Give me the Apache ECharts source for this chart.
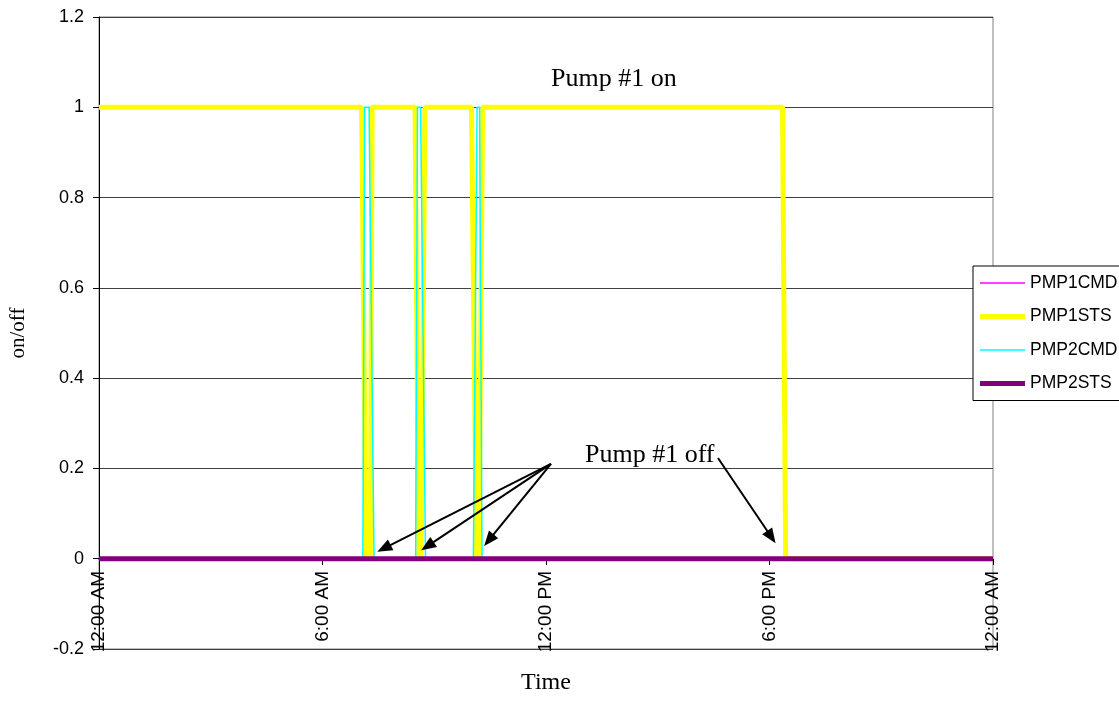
<!DOCTYPE html>
<html>
<head>
<meta charset="utf-8">
<script src="https://cdn.jsdelivr.net/npm/echarts/dist/echarts.min.js"></script>
<style>
html,body{margin:0;padding:0;background:#fff;}
#chart{width:1119px;height:704px;}
</style>
</head>
<body>
<div id="chart"></div>
<script>
// Time in minutes after midnight, values 0 = off, 1 = on
const xTickLabels = ['12:00 AM', '6:00 AM', '12:00 PM', '6:00 PM', '12:00 AM'];
const seriesNames = ['PMP1CMD', 'PMP1STS', 'PMP2CMD', 'PMP2STS'];

const pmp1cmdTime = [0, 423, 430, 437, 440, 509, 515, 519, 525, 600, 608, 612, 618, 1101, 1106, 1440];
const pmp1cmdVal  = [1, 1,   0,   0,   1,   1,   0,   0,   1,   1,   0,   0,   1,   1,    0,    0];

const pmp1stsTime = [0, 423, 430, 437, 440, 509, 515, 519, 525, 600, 608, 612, 618, 1101, 1106, 1440];
const pmp1stsVal  = [1, 1,   0,   0,   1,   1,   0,   0,   1,   1,   0,   0,   1,   1,    0,    0];

const pmp2cmdTime = [0, 425, 428, 435, 443, 510, 513, 518, 526, 603, 609, 613, 617, 1440];
const pmp2cmdVal  = [0, 0,   1,   1,   0,   0,   1,   1,   0,   0,   1,   1,   0,   0];

const pmp2stsTime = [0, 1440];
const pmp2stsVal  = [0, 0];

// annotation arrows: [fromTime, fromValue, toTime, toValue]
const arrows = [
  [728, 0.210, 459, 0.023],
  [728, 0.210, 529, 0.028],
  [728, 0.210, 628, 0.041],
  [997, 0.223, 1083, 0.048]
];

function pairs(t, v) { return t.map((x, i) => [x, v[i]]); }

const chart = echarts.init(document.getElementById('chart'), null, {renderer: 'canvas'});

const serif = '"Liberation Serif", "Times New Roman", serif';
const sans = '"Liberation Sans", Arial, sans-serif';

const legendIcons = {
  thin: 'path://M0,0h45v1.5h-45z',
  thick: 'path://M0,0h45v5h-45z'
};

const option = {
  animation: false,
  backgroundColor: '#ffffff',
  grid: {left: 99, right: 126, top: 17, bottom: 55, show: true, borderColor: '#808080', borderWidth: 1,
    backgroundColor: 'transparent', containLabel: false, outerBoundsMode: 'none'},
  xAxis: {
    type: 'value', min: 0, max: 1440, interval: 360,
    position: 'bottom', offset: -90,
    axisLine: {onZero: false, lineStyle: {color: '#000', width: 1}},
    axisTick: {show: true, length: 6, lineStyle: {color: '#000'}},
    axisLabel: {rotate: 90, margin: 12, fontFamily: sans, fontSize: 19, color: '#000',
      formatter: function (v) { return xTickLabels[Math.round(v / 360)]; }},
    splitLine: {show: false},
    name: 'Time', nameLocation: 'middle', nameGap: 112,
    nameTextStyle: {fontFamily: serif, fontSize: 24, color: '#000'}
  },
  yAxis: {
    type: 'value', min: -0.2, max: 1.2, interval: 0.2,
    axisLine: {show: true, onZero: false, lineStyle: {color: '#000', width: 1}},
    axisTick: {show: true, length: 6, lineStyle: {color: '#000'}},
    axisLabel: {margin: 15, fontFamily: sans, fontSize: 18, color: '#000'},
    splitLine: {show: true, lineStyle: {color: '#404040', width: 1}},
    name: 'on/off', nameLocation: 'middle', nameGap: 70,
    nameTextStyle: {fontFamily: serif, fontSize: 21, color: '#000'}
  },
  legend: {
    orient: 'vertical', left: 973, top: 266,
    data: [
      {name: seriesNames[0], icon: legendIcons.thin},
      {name: seriesNames[1], icon: legendIcons.thick},
      {name: seriesNames[2], icon: legendIcons.thin},
      {name: seriesNames[3], icon: legendIcons.thick}
    ],
    itemWidth: 45, itemHeight: 14, itemGap: 15.5,
    padding: [8, 6, 8, 7],
    borderColor: '#000', borderWidth: 1, backgroundColor: '#fff',
    textStyle: {fontFamily: sans, fontSize: 17.5, color: '#000'}
  },
  graphic: [
    {type: 'text', left: 551, top: 66, z: 100,
      style: {text: 'Pump #1 on', font: '26px "Liberation Serif"', fill: '#000'}},
    {type: 'text', left: 585, top: 442, z: 100,
      style: {text: 'Pump #1 off', font: '26px "Liberation Serif"', fill: '#000'}}
  ],
  series: [
    {name: seriesNames[0], type: 'line', data: pairs(pmp1cmdTime, pmp1cmdVal), symbol: 'none', showSymbol: false,
      lineStyle: {color: '#FF00FF', width: 1.5}, itemStyle: {color: '#FF00FF'}},
    {name: seriesNames[1], type: 'line', data: pairs(pmp1stsTime, pmp1stsVal), symbol: 'none', showSymbol: false,
      lineStyle: {color: '#FFFF00', width: 5}, itemStyle: {color: '#FFFF00'}},
    {name: seriesNames[2], type: 'line', data: pairs(pmp2cmdTime, pmp2cmdVal), symbol: 'none', showSymbol: false,
      lineStyle: {color: '#00FFFF', width: 1.5}, itemStyle: {color: '#00FFFF'}},
    {name: seriesNames[3], type: 'line', data: pairs(pmp2stsTime, pmp2stsVal), symbol: 'none', showSymbol: false,
      lineStyle: {color: '#800080', width: 5}, itemStyle: {color: '#800080'},
      markLine: {
        silent: true, animation: false,
        symbol: ['none', 'triangle'], symbolSize: [12, 15],
        lineStyle: {color: '#000', width: 2, type: 'solid'},
        itemStyle: {color: '#000'},
        label: {show: false},
        emphasis: {disabled: true},
        data: arrows.map(a => [{coord: [a[0], a[1]]}, {coord: [a[2], a[3]]}])
      }}
  ]
};
chart.setOption(option);
</script>
</body>
</html>
